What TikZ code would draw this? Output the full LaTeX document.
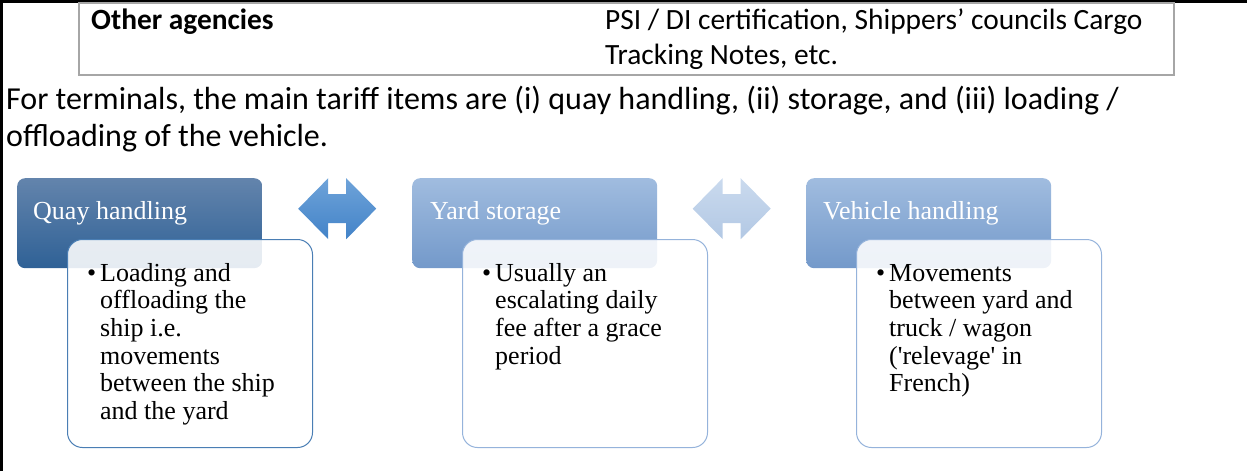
\documentclass[tikz,border=0pt]{standalone}
\usepackage{fontspec}
\setmainfont{Liberation Serif}
\newfontfamily\docfont{Carlito}
\usepackage{xcolor}
\usetikzlibrary{positioning, calc}
\definecolor{framegray}{HTML}{A6A6A6}
\definecolor{quaytop}{HTML}{6384AC}
\definecolor{quaybot}{HTML}{2F6196}
\definecolor{paletop}{HTML}{A0BCDF}
\definecolor{palebot}{HTML}{7399CA}
\definecolor{quayline}{HTML}{4A7EB4}
\definecolor{paleline}{HTML}{95B3DB}
\definecolor{arrowtop}{HTML}{6EA3D9}
\definecolor{arrowbot}{HTML}{4383C8}
\definecolor{fainttop}{HTML}{CADAEE}
\definecolor{faintbot}{HTML}{B2C8E4}

\tikzset{
  headbox/.style={rounded corners=8pt, minimum width=245pt, minimum height=90pt,
                  anchor=north west, inner sep=0pt},
  headtext/.style={text=white, font=\fontsize{26}{28}\selectfont, anchor=base west, inner sep=0pt},
  bodybox/.style={draw, rounded corners=15pt, fill=white, fill opacity=0.88, line width=1pt,
                  minimum width=245pt, minimum height=208pt, anchor=north west, inner sep=0pt},
  bodytext/.style={font=\fontsize{26}{27.7}\selectfont, align=left, anchor=north west, inner sep=0pt},
  doctext/.style={font=\docfont\fontsize{32}{37.5}\selectfont, align=left, anchor=north west, inner sep=0pt},
  celltext/.style={font=\docfont\fontsize{29.4}{35}\selectfont, align=left, anchor=north west, inner sep=0pt},
}
\newcommand{\itembullet}{\strut\llap{\textbullet\hspace{4pt}}}

\begin{document}
\begin{tikzpicture}[x=1pt, y=-1pt]
  \useasboundingbox (0,0) rectangle (1247,471);

  % page frame and table row
  \draw[line width=3pt] (1.5,471) -- (1.5,1.5) -- (1247,1.5);
  \node[draw=framegray, line width=2pt, minimum width=1095pt, minimum height=72pt,
        anchor=north west, inner sep=0pt] (agencies) at (78,2) {};
  \node[celltext, font=\docfont\bfseries\fontsize{29.4}{35}\selectfont] (agencyname) at (91,5)
    {\strut Other agencies};
  \node[celltext] (agencyitems) at (605,5)
    {\strut PSI / DI certification, Shippers’ councils Cargo\\Tracking Notes, etc.};
  \node[doctext] (intro) at (6,83)
    {\strut For terminals, the main tariff items are (i) quay handling, (ii) storage, and (iii) loading /\\offloading of the vehicle.};

  % headers
  \node[headbox, top color=quaytop, bottom color=quaybot] (quay) at (17,178) {};
  \node[headbox, top color=paletop, bottom color=palebot] (yard) at (412,178) {};
  \node[headbox, top color=paletop, bottom color=palebot] (vehicle) at (806,178) {};
  \node[headtext] (quaylabel) at ($(quay.north west)+(16,41)$) {Quay handling};
  \node[headtext] (yardlabel) at ($(yard.north west)+(18,41)$) {Yard storage};
  \node[headtext] (vehiclelabel) at ($(vehicle.north west)+(17,41)$) {Vehicle handling};

  % bodies
  \node[bodybox, draw=quayline] (quaybody) at ($(quay.north west)+(50,61)$) {};
  \node[bodybox, draw=paleline] (yardbody) at ($(yard.north west)+(50,61)$) {};
  \node[bodybox, draw=paleline] (vehiclebody) at ($(vehicle.north west)+(50,61)$) {};
  \node[bodytext] (quaynote) at ($(quaybody.north west)+(33,22.6)$)
    {\itembullet Loading and\\offloading the\\ship i.e.\\movements\\between the ship\\and the yard};
  \node[bodytext] (yardnote) at ($(yardbody.north west)+(33,22.6)$)
    {\itembullet Usually an\\escalating daily\\fee after a grace\\period};
  \node[bodytext] (vehiclenote) at ($(vehiclebody.north west)+(33,22.6)$)
    {\itembullet Movements\\between yard and\\truck / wagon\\(\textquotesingle relevage\textquotesingle\ in\\French)};

  % double arrows between the headers
  \coordinate (gapA) at ($(quay.east)!0.5!(yard.west)+(0,-14.5)$);
  \coordinate (gapB) at ($(yard.east)!0.5!(vehicle.west)+(0,-14.5)$);
  \shade[top color=arrowtop, bottom color=arrowbot]
    ($(gapA)+(-39,0)$) -- ++(30,-30.5) -- ++(0,16) -- ++(18,0) -- ++(0,-16) -- ++(30,30.5)
    -- ++(-30,30.5) -- ++(0,-16) -- ++(-18,0) -- ++(0,16) -- cycle;
  \shade[top color=fainttop, bottom color=faintbot]
    ($(gapB)+(-39,0)$) -- ++(30,-30.5) -- ++(0,16) -- ++(18,0) -- ++(0,-16) -- ++(30,30.5)
    -- ++(-30,30.5) -- ++(0,-16) -- ++(-18,0) -- ++(0,16) -- cycle;
\end{tikzpicture}
\end{document}
